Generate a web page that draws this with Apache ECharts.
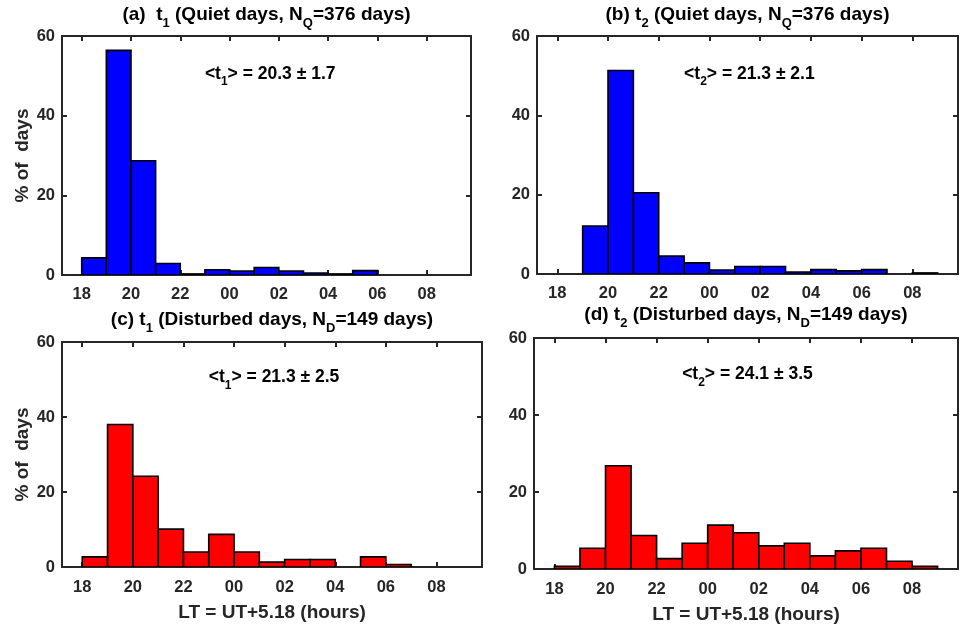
<!DOCTYPE html>
<html><head><meta charset="utf-8">
<script src="https://cdn.jsdelivr.net/npm/echarts@6/dist/echarts.min.js"></script>
<style>html,body{margin:0;padding:0;background:#fff}#c{width:961px;height:626px}</style>
</head><body><div id="c"></div><script>
// bin left edges (hours LT, 24+ = after midnight), each bin is 1 hour wide
const binStarts = [18,19,20,21,22,23,24,25,26,27,28,29,30,31,32];
const binWidth = 1;
// % of days per bin
const quietT1 =     [4.3, 56.4, 28.7, 2.9, 0.27, 1.3, 1.0, 1.9, 1.0, 0.5, 0.27, 1.1, 0, 0, 0];
const quietT2 =     [0, 12.1, 51.3, 20.5, 4.5, 2.8, 1.0, 1.9, 1.9, 0.5, 1.1, 0.8, 1.1, 0, 0.27];
const disturbedT1 = [2.7, 38.0, 24.2, 10.1, 4.0, 8.7, 4.0, 1.3, 2.0, 2.0, 0, 2.7, 0.67, 0, 0];
const disturbedT2 = [0.67, 5.4, 26.8, 8.7, 2.7, 6.7, 11.4, 9.4, 6.0, 6.7, 3.4, 4.7, 5.4, 2.0, 0.67];
const xTickValues = [18,20,22,24,26,28,30,32];
const xTickLabels = ['18','20','22','00','02','04','06','08'];
const yTickValues = [0,20,40,60];
const xMin = 17.2, xMax = 33.8, yMin = 0, yMax = 60;
const meanPos = [23, 50.5];

const panels = [
  {data: quietT1, color: '#0000FF',
   title: '{n|(a)  t}{s|1}{n| (Quiet days, N}{s|Q}{n|=376 days)}',
   mean: '{n|<t}{s|1}{n|> = 20.3 ± 1.7}', yName: true, xName: false},
  {data: quietT2, color: '#0000FF',
   title: '{n|(b) t}{s|2}{n| (Quiet days, N}{s|Q}{n|=376 days)}',
   mean: '{n|<t}{s|2}{n|> = 21.3 ± 2.1}', yName: false, xName: false},
  {data: disturbedT1, color: '#FF0000',
   title: '{n|(c) t}{s|1}{n| (Disturbed days, N}{s|D}{n|=149 days)}',
   mean: '{n|<t}{s|1}{n|> = 21.3 ± 2.5}', yName: true, xName: true},
  {data: disturbedT2, color: '#FF0000',
   title: '{n|(d) t}{s|2}{n| (Disturbed days, N}{s|D}{n|=149 days)}',
   mean: '{n|<t}{s|2}{n|> = 24.1 ± 3.5}', yName: false, xName: true}
];
const xAxisName = 'LT = UT+5.18 (hours)';
const yAxisName = '% of  days';

// layout
const grids = [
  {left: 62, top: 36, width: 409, height: 239},
  {left: 537, top: 36, width: 421, height: 238},
  {left: 62, top: 342, width: 420, height: 225},
  {left: 534, top: 338, width: 424, height: 231}
];
const titleY = [15, 15, 320, 315];

const INK = '#262626';
const FONT = '"Liberation Sans", Arial, Helvetica, sans-serif';
const richTitle = {
  n: {fontSize: 19, fontWeight: 'bold', fontFamily: FONT, color: '#000', lineHeight: 30, verticalAlign: 'middle'},
  s: {fontSize: 13, fontWeight: 'bold', fontFamily: FONT, color: '#000', lineHeight: 11, verticalAlign: 'bottom'}
};
const richMean = {
  n: {fontSize: 17.5, fontWeight: 'bold', fontFamily: FONT, color: '#000', lineHeight: 28, verticalAlign: 'middle'},
  s: {fontSize: 12, fontWeight: 'bold', fontFamily: FONT, color: '#000', lineHeight: 10, verticalAlign: 'bottom'}
};

const xAxes = [], yAxes = [], series = [], graphics = [];
panels.forEach((p, i) => {
  const common = {gridIndex: i, min: xMin, max: xMax, type: 'value',
    splitLine: {show: false},
    axisLine: {show: true, onZero: false, lineStyle: {color: INK, width: 2}},
    axisTick: {show: true, inside: true, length: 5, lineStyle: {color: INK, width: 2}, customValues: xTickValues}
  };
  xAxes.push(Object.assign({}, common, {
    position: 'bottom',
    axisLabel: {show: true, margin: i >= 2 ? 12 : 11, fontSize: 16.5, fontWeight: 'bold', fontFamily: FONT, color: INK,
      customValues: xTickValues,
      formatter: v => xTickLabels[xTickValues.indexOf(Math.round(v))]},
    name: p.xName ? xAxisName : '', nameLocation: 'middle', nameGap: 36,
    nameTextStyle: {fontSize: 19, fontWeight: 'bold', fontFamily: FONT, color: INK}
  }));
  xAxes.push(Object.assign({}, common, {position: 'top', axisLabel: {show: false}}));
  const ycommon = {gridIndex: i, min: yMin, max: yMax, type: 'value', interval: 20,
    splitLine: {show: false},
    axisLine: {show: true, onZero: false, lineStyle: {color: INK, width: 2}},
    axisTick: {show: true, inside: true, length: 5, lineStyle: {color: INK, width: 2}}
  };
  yAxes.push(Object.assign({}, ycommon, {
    position: 'left',
    axisLabel: {show: true, margin: 7, fontSize: 16.5, fontWeight: 'bold', fontFamily: FONT, color: INK,
      formatter: v => String(yTickValues[yTickValues.indexOf(v)])},
    name: p.yName ? yAxisName : '', nameLocation: 'middle', nameGap: 29, nameRotate: 90,
    nameTextStyle: {fontSize: 19, fontWeight: 'bold', fontFamily: FONT, color: INK}
  }));
  yAxes.push(Object.assign({}, ycommon, {position: 'right', axisLabel: {show: false}}));

  const hist = p.data.map((v, k) => [binStarts[k], binStarts[k] + binWidth, v]);
  series.push({
    type: 'custom', xAxisIndex: 2 * i, yAxisIndex: 2 * i, data: hist,
    encode: {x: [0, 1], y: 2}, clip: true, silent: true,
    renderItem: (params, api) => {
      const v = api.value(2);
      if (!v) return null;
      const a = api.coord([api.value(0), v]);
      const b = api.coord([api.value(1), 0]);
      return {type: 'rect', shape: {x: a[0], y: a[1], width: b[0] - a[0], height: b[1] - a[1]},
        style: {fill: p.color, stroke: '#000', lineWidth: 1.6}};
    }
  });
  series.push({
    type: 'scatter', xAxisIndex: 2 * i, yAxisIndex: 2 * i, symbolSize: 0, silent: true,
    itemStyle: {opacity: 1},
    data: [meanPos],
    label: {show: true, position: 'right', distance: 0, color: '#000', formatter: p.mean, rich: richMean}
  });
  const g = grids[i];
  graphics.push({type: 'text', x: g.left + g.width / 2, y: titleY[i],
    style: {text: p.title, rich: richTitle, align: 'center', verticalAlign: 'middle'}});
});

const chart = echarts.init(document.getElementById('c'), null, {renderer: 'canvas'});
chart.setOption({
  animation: false,
  backgroundColor: '#fff',
  grid: grids.map(g => Object.assign({containLabel: false}, g)),
  xAxis: xAxes, yAxis: yAxes, series: series, graphic: graphics
});
</script></body></html>
